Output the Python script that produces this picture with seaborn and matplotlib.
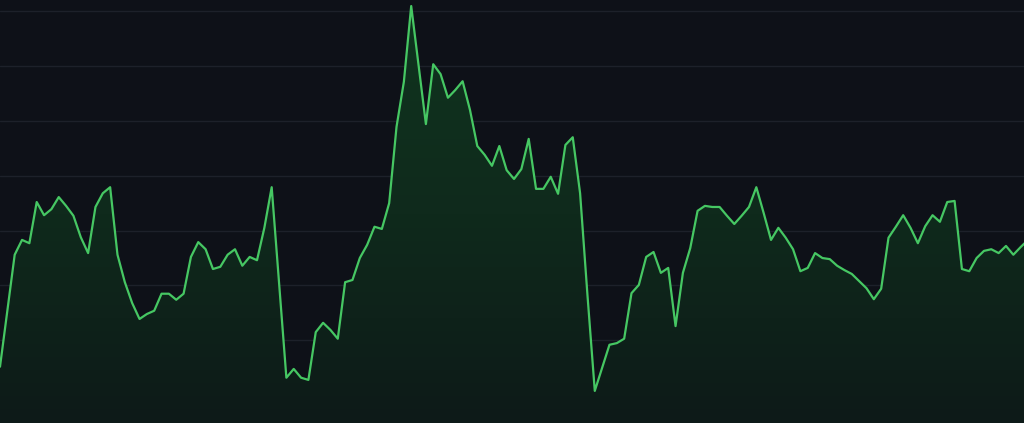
import numpy as np
import pandas as pd
import matplotlib
matplotlib.use("Agg")
import matplotlib.pyplot as plt
import seaborn as sns
from matplotlib.colors import LinearSegmentedColormap

values = [
    15.2, 25.4, 35.6, 38.3, 37.7, 45.2, 42.8, 43.9, 46.1, 44.5,
    42.7, 38.8, 35.9, 44.3, 46.8, 47.9, 35.6, 30.6, 26.8, 23.9,
    24.8, 25.4, 28.5, 28.5, 27.4, 28.5, 35.2, 37.9, 36.6, 33.0,
    33.4, 35.6, 36.6, 33.6, 35.2, 34.6, 40.5, 47.9, 30.6, 13.2,
    14.8, 13.2, 12.8, 21.5, 23.2, 21.9, 20.3, 30.6, 31.0, 35.0,
    37.4, 40.7, 40.3, 45.0, 58.9, 67.1, 80.9, 70.2, 59.4, 70.3,
    68.5, 64.2, 65.6, 67.2, 62.0, 55.4, 53.8, 51.8, 55.4, 51.0,
    49.4, 51.2, 56.7, 47.6, 47.6, 49.8, 46.7, 55.6, 57.0, 46.8,
    28.3, 10.8, 15.0, 19.2, 19.5, 20.3, 28.6, 30.1, 35.2, 36.1,
    32.3, 33.2, 22.6, 32.3, 36.8, 43.6, 44.5, 44.3, 44.3, 42.7,
    41.2, 42.7, 44.3, 47.9, 43.2, 38.3, 40.5, 38.7, 36.6, 32.6,
    33.2, 35.9, 35.0, 34.8, 33.6, 32.8, 32.1, 30.8, 29.5, 27.5,
    29.4, 38.7, 40.7, 42.8, 40.5, 37.7, 40.8, 42.8, 41.6, 45.2,
    45.4, 33.0, 32.6, 35.0, 36.3, 36.6, 35.9, 37.2, 35.6, 37.0,
    38.3,
]
index = list(range(len(values)))
grid_levels = [10, 20, 30, 40, 50, 60, 70, 80]

df = pd.DataFrame({"t": index, "v": values})

BG = "#0e1118"
LINE = "#46c763"
GRID = "#1d212a"

sns.set_theme(style="dark")
fig = plt.figure(figsize=(10.24, 4.23), dpi=100, facecolor=BG)
ax = fig.add_axes([0, 0, 1, 1])
ax.set_facecolor(BG)

ymin, ymax = 4.95, 82.0
xmax = 1024 / 7.343

for g in grid_levels:
    ax.axhline(g, color=GRID, lw=1.0, zorder=1)

# gradient fill under the line
poly = ax.fill_between(df["t"], df["v"], ymin, color="none", lw=0)
cmap = LinearSegmentedColormap.from_list("g", ["#0d1a18", "#0f2a1c", "#10351f"])
grad = np.linspace(0, 1, 256).reshape(-1, 1)
im = ax.imshow(grad, cmap=cmap, aspect="auto", origin="lower",
               extent=[0, df["t"].max(), ymin, max(values)], zorder=2)
path = poly.get_paths()[0]
im.set_clip_path(path, transform=ax.transData)

sns.lineplot(data=df, x="t", y="v", ax=ax, color=LINE, lw=1.6, zorder=3)

ax.set_xlim(0, xmax)
ax.set_ylim(ymin, ymax)
ax.set_xlabel("")
ax.set_ylabel("")
ax.set_xticks([])
ax.set_yticks([])
for s in ax.spines.values():
    s.set_visible(False)
ax.grid(False)

fig.savefig("out.png", dpi=100, facecolor=BG)
